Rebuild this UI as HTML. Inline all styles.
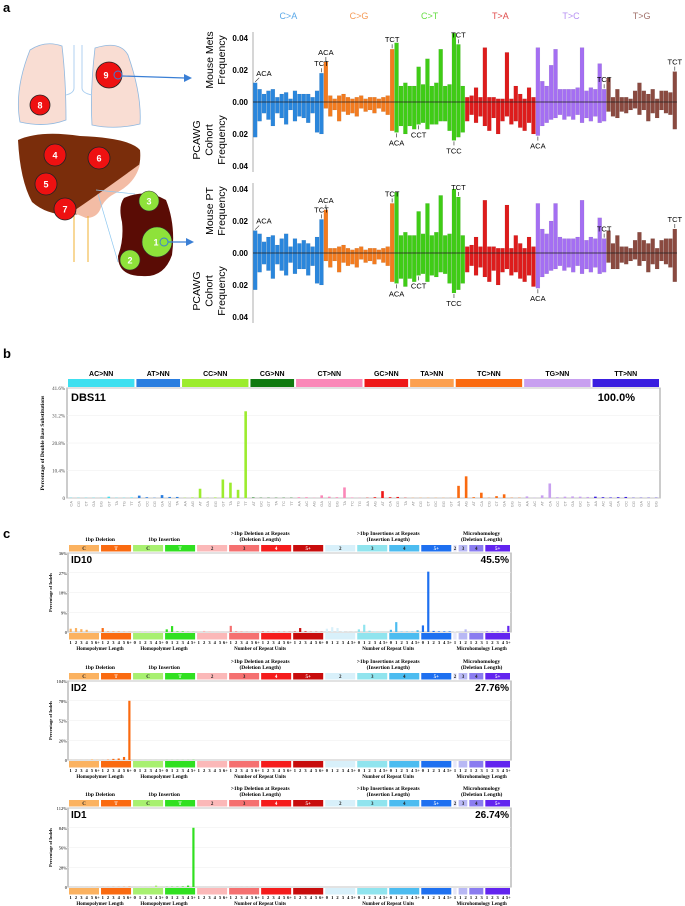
<!DOCTYPE html>
<html><head><meta charset="utf-8"><style>
body{margin:0;background:#fff;width:685px;height:906px;overflow:hidden}
svg{display:block;font-family:"Liberation Sans",sans-serif}
</style></head><body>
<svg id="fig" width="685" height="906" viewBox="0 0 685 906" xmlns="http://www.w3.org/2000/svg">
<text x="3" y="12" font-size="13" font-weight="bold">a</text>
<text x="3" y="358" font-size="13" font-weight="bold">b</text>
<text x="3" y="538" font-size="13" font-weight="bold">c</text>
<g>
 <path d="M30 50 Q45 40 62 46 Q66 80 66 120 Q45 128 20 122 Q14 90 30 50Z" fill="#f9ddd3" stroke="#8fb8e0" stroke-width="0.8"/>
 <path d="M95 48 Q120 40 128 55 Q142 95 140 124 Q115 130 92 125 Q90 90 95 48Z" fill="#f9ddd3" stroke="#8fb8e0" stroke-width="0.8"/>
 <path d="M74 45 L74 88 Q74 93 66 95 M82 45 L82 88 Q82 93 92 95" fill="none" stroke="#a8cdf0" stroke-width="0.9"/>
 <circle cx="40" cy="105" r="10" fill="#ee1111" stroke="#222" stroke-width="0.8"/>
 <text x="40" y="108.5" font-size="9" font-weight="bold" fill="#fff" text-anchor="middle">8</text>
 <circle cx="109" cy="75" r="13" fill="#ee1111" stroke="#222" stroke-width="0.8"/>
 <text x="106" y="78.5" font-size="9" font-weight="bold" fill="#fff" text-anchor="middle">9</text>
 <circle cx="118" cy="75" r="4" fill="none" stroke="#3a7fd5" stroke-width="1"/>
 <path d="M18 140 Q40 130 80 136 Q130 138 140 150 Q142 170 130 182 Q112 190 100 198 Q92 212 80 214 Q50 218 32 202 Q20 180 18 140Z" fill="#7a2d0b"/>
 <path d="M72 212 Q96 196 140 164 Q136 182 118 192 Q104 198 100 210 Q96 218 86 218Z" fill="#f3bca5"/>
 <path d="M74 214 L74 262 M88 216 L88 262" stroke="#f0b030" stroke-width="1" fill="none"/>
 <circle cx="55" cy="155" r="11" fill="#ee1111" stroke="#222" stroke-width="0.8"/>
 <text x="55" y="158.5" font-size="9" font-weight="bold" fill="#fff" text-anchor="middle">4</text>
 <circle cx="99" cy="158" r="11" fill="#ee1111" stroke="#222" stroke-width="0.8"/>
 <text x="99" y="161.5" font-size="9" font-weight="bold" fill="#fff" text-anchor="middle">6</text>
 <circle cx="46" cy="184" r="11" fill="#ee1111" stroke="#222" stroke-width="0.8"/>
 <text x="46" y="187.5" font-size="9" font-weight="bold" fill="#fff" text-anchor="middle">5</text>
 <circle cx="65" cy="209" r="11" fill="#ee1111" stroke="#222" stroke-width="0.8"/>
 <text x="65" y="212.5" font-size="9" font-weight="bold" fill="#fff" text-anchor="middle">7</text>
 <path d="M96 190 L135 194 M98 194 L118 262" stroke="#8fc8f0" stroke-width="0.7" fill="none"/>
 <path d="M124 198 Q146 188 166 200 Q176 225 172 255 Q164 278 142 276 Q118 276 118 256 Q124 240 122 222 Q118 206 124 198Z" fill="#5a0c05"/>
 <circle cx="149" cy="201" r="10" fill="#8ee23a" stroke="#333" stroke-width="0.6"/>
 <text x="149" y="204.5" font-size="9" font-weight="bold" fill="#fff" text-anchor="middle">3</text>
 <circle cx="157" cy="242" r="15" fill="#8ee23a" stroke="#333" stroke-width="0.6"/>
 <text x="156" y="245.5" font-size="9" font-weight="bold" fill="#fff" text-anchor="middle">1</text>
 <circle cx="164" cy="242" r="4" fill="none" stroke="#3a7fd5" stroke-width="1"/>
 <circle cx="130" cy="260" r="10" fill="#8ee23a" stroke="#333" stroke-width="0.6"/>
 <text x="130" y="263.5" font-size="9" font-weight="bold" fill="#fff" text-anchor="middle">2</text>
 <path d="M122 76 L185 78" stroke="#3a7fd5" stroke-width="1.2"/>
 <path d="M184 74 L192 78 L184 82Z" fill="#3a7fd5"/>
 <path d="M168 242 L187 242" stroke="#3a7fd5" stroke-width="1.2"/>
 <path d="M186 238 L194 242 L186 246Z" fill="#3a7fd5"/>
</g>
<g id="sbs"></g>
<g id="dbs"></g>
<g id="ids"></g>
</svg>
<script>
// ---------- SBS data (units of 0.001) ----------
const sbsGroups = ["C>A","C>G","C>T","T>A","T>C","T>G"];
const metsUp = [12,8,5,7,8,3,5,6,2,7,5,5,5,3,7,18, 25,4,2,4,5,3,2,3,4,2,3,3,2,3,4,33, 37,10,12,10,10,22,11,27,10,12,33,10,11,43,36,10, 3,4,9,3,34,3,3,2,2,31,2,10,5,2,9,3, 34,13,10,23,33,8,8,8,8,9,34,7,9,8,24,8, 15,3,8,3,3,2,7,12,7,5,8,2,7,7,6,19];
const metsDown = [22,12,7,11,15,7,10,14,5,12,9,10,13,7,19,20, 4,9,5,12,6,8,7,9,4,6,5,7,4,6,8,18, 19,15,20,15,17,14,13,17,14,14,12,12,18,24,22,19, 12,8,13,9,15,18,10,20,12,9,14,12,16,18,13,20, 21,15,13,11,10,8,11,9,11,8,13,10,12,9,13,12, 6,9,10,6,7,5,4,8,5,12,7,10,5,7,8,17];
const ptUp = [14,12,7,10,11,5,9,12,4,9,6,8,6,4,10,21, 27,3,3,4,5,3,2,3,4,2,3,3,2,3,4,31, 38,11,13,11,11,26,12,31,11,13,36,11,12,40,35,11, 4,5,10,4,33,4,4,3,3,30,3,11,6,3,10,4, 31,15,12,20,31,10,9,9,9,10,33,8,10,9,22,9, 14,6,11,4,4,3,8,13,8,6,9,3,8,9,9,15];
const ptDown = [23,12,7,11,16,7,11,14,6,13,10,10,14,8,19,20, 5,9,5,12,6,8,7,9,4,6,5,7,4,6,8,18, 19,16,21,16,18,14,13,18,14,15,12,13,19,25,23,19, 12,8,14,9,15,18,11,20,12,10,14,12,16,18,14,21, 22,15,13,11,10,8,11,9,12,8,13,10,12,9,13,12, 6,10,10,6,7,5,4,8,5,12,7,10,5,7,9,18];
const metsAnnot = [[0,"up","ACA"],[15,"up","TCT"],[16,"up","ACA"],[31,"up","TCT"],[32,"down","ACA"],[37,"down","CCT"],[46,"up","TCT"],[45,"down","TCC"],[64,"down","ACA"],[79,"up","TCT"],[95,"up","TCT"]];
const sbsTicks = ["0.04","0.02","0.00","0.02","0.04"];
// ---------- DBS data (%) ----------
const dbsGroups = ["AC>NN","AT>NN","CC>NN","CG>NN","CT>NN","GC>NN","TA>NN","TC>NN","TG>NN","TT>NN"];
const dbsSub = [["CA","CG","CT","GA","GG","GT","TA","TG","TT"],["CA","CC","CG","GA","GC","TA"],["AA","AG","AT","GA","GG","GT","TA","TG","TT"],["AT","GC","GT","TA","TC","TT"],["AA","AC","AG","GA","GC","GG","TA","TC","TG"],["AA","AG","AT","CA","CG","TA"],["AT","CG","CT","GC","GG","GT"],["AA","AG","AT","CA","CG","CT","GA","GG","GT"],["AA","AC","AT","CA","CC","CT","GA","GC","GT"],["AA","AC","AG","CA","CC","CG","GA","GC","GG"]];
const dbsValues = [0.1,0.1,0.1,0.1,0.1,0.5,0.1,0.1,0.2, 0.9,0.3,0.1,1.1,0.4,0.4, 0.1,0.2,3.5,0.1,0.2,7.0,5.8,3.1,32.8, 0.2,0.1,0.1,0.1,0.1,0.1, 0.3,0.3,0.1,1.0,0.5,0.3,4.0,0.2,0.1, 0.1,0.3,2.6,0.3,0.4,0.1, 0.1,0.1,0.1,0.1,0.1,0.1, 4.6,8.2,0.3,2.0,0.1,0.7,1.4,0.1,0.1, 0.6,0.1,1.0,5.5,0.3,0.5,0.6,0.5,0.4, 0.5,0.3,0.2,0.3,0.4,0.1,0.1,0.1,0.1];
const dbsTicks = ["0","10.4%","20.8%","31.2%","41.6%"];
// ---------- ID data (%) ----------
const id10Values = [1.5,1.8,1.3,1.0,0.1,0.1, 1.8,0.2,0.2,0.2,0.1,0.1, 0.2,0.2,0.2,0.2,0.2,0.1, 1.2,2.7,0.3,0.3,0.1,0.1, 0.2,0.5,0.3,0.1,0.1,0.1, 2.8,0.3,0.2,0.1,0.1,0.1, 0.2,0.1,0.1,0.1,0.1,0.1, 0.2,1.8,0.3,0.1,0.1,0.1, 1.5,2.2,1.8,0.3,0.1,0.1, 1.2,3.3,0.6,0.2,0.1,0.1, 1.0,4.5,0.2,0.2,0.2,0.8, 3.0,27.5,0.5,0.3,0.3,0.3, 0.2, 0.2,1.2, 0.1,0.1,0.1, 0.2,0.2,0.2,0.2,2.8];
const id2Values = [0.1,0.1,0.1,0.1,0.8,0.3, 0.1,0.5,1.5,2.0,4.0,78.0, 0.1,0.1,0.1,0.1,0.1,0.1, 0.1,0.1,0.1,0.1,0.1,0.3, 0,0,0,0,0,0, 0,0,0,0,0,0, 0,0,0,0,0,0, 0,0,0,0,0,0, 0,0,0,0,0,0, 0,0,0,0,0,0, 0,0,0,0,0,0, 0,0,0,0,0,0, 0, 0,0, 0,0,0, 0,0,0,0,0];
const id1Values = [0.1,0.1,0.1,0.1,0.3,0.5, 0.1,0.1,0.2,0.2,0.3,0.5, 0.2,0.3,0.3,0.5,2.0,0.5, 0.3,0.5,0.5,0.8,2.0,84.0, 0.1,0.1,0.1,0.1,0.1,0.1, 0.1,0.1,0.1,0.1,0.1,0.1, 0,0,0,0,0,0, 0,0,0,0,0,0, 0,0,0,0,0,0, 0,0,0,0,0,0, 0,0,0,0,0,0, 0,0,0,0,0,0, 0, 0,0, 0,0,0, 0,0,0,0,0];
const id10Ticks = ["0","9%","18%","27%","36%"];
const id2Ticks = ["0","26%","52%","78%","104%"];
const id1Ticks = ["0","28%","56%","84%","112%"];
const idSegLabels = ["C","T","C","T","2","3","4","5+","2","3","4","5+","2","3","4","5+"];
const idSegCounts = [6,6,6,6,6,6,6,6,6,6,6,6,1,2,3,5];
const idSegNums = [["1","2","3","4","5","6+"],["1","2","3","4","5","6+"],["0","1","2","3","4","5+"],["0","1","2","3","4","5+"],["1","2","3","4","5","6+"],["1","2","3","4","5","6+"],["1","2","3","4","5","6+"],["1","2","3","4","5","6+"],["0","1","2","3","4","5+"],["0","1","2","3","4","5+"],["0","1","2","3","4","5+"],["0","1","2","3","4","5+"],["1"],["1","2"],["1","2","3"],["1","2","3","4","5+"]];

const NS="http://www.w3.org/2000/svg";
function mk(tag, attrs, parent){const e=document.createElementNS(NS,tag);for(const k in attrs)e.setAttribute(k,attrs[k]);parent.appendChild(e);return e;}
function txt(s, attrs, parent){const e=mk("text",attrs,parent);e.textContent=s;return e;}

// ================= SBS =================
const sbsColors=["#2a86dc","#f27b1f","#3fcc16","#dd1c1c","#a46ff2","#8a4a40"];
const sbsLabelColors=["#5aa8e8","#f59a55","#66dd44","#e04c4c","#b690f2","#a0706a"];
const sbsG=document.getElementById("sbs");
const sbsX0=253, sbsW=424/96;
function sx(i){return sbsX0+i*sbsW;}
sbsGroups.forEach((g,k)=>{
  const t=txt(g,{x:sx(k*16+8),y:19,"font-size":9,fill:sbsLabelColors[k],"text-anchor":"middle"},sbsG);
  
  
});
function drawSBS(zero, up, down, titleTop, titleBot, name){
  const g=mk("g",{},sbsG);
  
  
  const unit=1.6;
  function y(v){return zero - v*unit;}
  const ax=mk("line",{x1:sbsX0,x2:sbsX0,y1:zero-70,y2:zero+70,stroke:"#999","stroke-width":0.8},g);
  
  
  sbsTicks.forEach((t,i)=>{
    const tv=(2-i)*20;
    const e=txt(t,{x:248,y:y(tv)+3,"font-size":8,"font-weight":"bold","text-anchor":"end"},g);
    
    
  });
  up.forEach((v,i)=>{
    const c=sbsColors[Math.floor(i/16)];
    const r=mk("rect",{x:sx(i)+0.2,y:y(v),width:sbsW-0.4,height:v*unit,fill:c,stroke:"rgba(0,0,0,0.15)","stroke-width":0.3},g);
    
    
    const d=down[i];
    const r2=mk("rect",{x:sx(i)+0.2,y:zero,width:sbsW-0.4,height:d*unit,fill:c,stroke:"rgba(0,0,0,0.15)","stroke-width":0.3},g);
    
    
  });
  const zl=mk("line",{x1:sbsX0,x2:677,y1:zero,y2:zero,stroke:"#222","stroke-width":0.8},g);
  
  
  metsAnnot.forEach(a=>{
    const i=a[0], cx=sx(i)+sbsW/2;
    if(a[1]==="up"){
      const top=y(up[i]);
      const first=(i===0);
      const l=mk("line",{x1:cx,y1:top-1,x2:first?cx+4:cx,y2:top-5,stroke:"#222","stroke-width":0.6},g);
      
      
      const t=txt(a[2],{x:first?cx+1:cx,y:top-7,"font-size":7.5,"text-anchor":first?"start":"middle"},g);
      
      
    } else {
      const bot=zero+down[i]*unit;
      const l=mk("line",{x1:cx,y1:bot+1,x2:cx,y2:bot+5,stroke:"#222","stroke-width":0.6},g);
      
      
      const t=txt(a[2],{x:cx,y:bot+13,"font-size":7.5,"text-anchor":"middle"},g);
      
      
    }
  });
  const tt=txt("",{transform:`translate(213,${zero-42}) rotate(-90)`,"font-size":10.5,"text-anchor":"middle"},g);
  
  
  titleTop.forEach((s,j)=>{const ts=mk("tspan",{x:0,dy:j?12:0},tt);ts.textContent=s;});
  const tb=txt("",{transform:`translate(200,${zero+38}) rotate(-90)`,"font-size":10.5,"text-anchor":"middle"},g);
  
  
  titleBot.forEach((s,j)=>{const ts=mk("tspan",{x:0,dy:j?12.5:0},tb);ts.textContent=s;});
}
drawSBS(102, metsUp, metsDown, ["Mouse Mets","Frequency"], ["PCAWG","Cohort","Frequency"], "mets-sbs-chart");
drawSBS(253, ptUp, ptDown, ["Mouse PT","Frequency"], ["PCAWG","Cohort","Frequency"], "pt-sbs-chart");

// ================= DBS =================
const dbsColors=["#3ee0f0","#2a7ee0","#9cec2e","#107a10","#fa88b8","#ee1818","#fca050","#fa6a10","#c8a0f0","#3a1ee0"];
const dbsG=document.getElementById("dbs");
const dX0=67, dX1=660, dTop=388, dBot=498, dW=(dX1-dX0)/78;
function dy(v){return dBot-(v/41.6)*(dBot-dTop);}
const box=mk("rect",{x:dX0,y:dTop,width:dX1-dX0,height:dBot-dTop,fill:"none",stroke:"#9a9a9a","stroke-width":1},dbsG);


dbsTicks.forEach((t,i)=>{
  const v=i*10.4;
  const gl=mk("line",{x1:dX0,x2:dX1,y1:dy(v),y2:dy(v),stroke:"#eee","stroke-width":0.5},dbsG);
  
  
  const e=txt(t,{x:dX0-2,y:dy(v)+2,"font-size":5,"text-anchor":"end",fill:"#444","font-family":"Liberation Serif, serif"},dbsG);
  
  
});
let di=0;
dbsGroups.forEach((g,k)=>{
  const n=dbsSub[k].length, x0=dX0+di*dW;
  const r=mk("rect",{x:x0+1,y:379,width:n*dW-2,height:8,fill:dbsColors[k]},dbsG);
  
  
  const t=txt(g,{x:x0+n*dW/2,y:376,"font-size":7,"font-weight":"bold","text-anchor":"middle"},dbsG);
  
  
  dbsSub[k].forEach((s,j)=>{
    const i=di+j, v=dbsValues[i], cx=dX0+(i+0.5)*dW;
    const b=mk("rect",{x:cx-1.3,y:dy(v),width:2.6,height:dBot-dy(v),fill:dbsColors[k]},dbsG);
    
    
    const l=txt(s,{transform:`translate(${cx+1.5},501) rotate(-90)`,"font-size":4,"text-anchor":"end",fill:"#888"},dbsG);
    
    
  });
  di+=n;
});
const dn=txt("DBS11",{x:dX0+4,y:dTop+13,"font-size":11,"font-weight":"bold"},dbsG);


const dp=txt("100.0%",{x:dX1-25,y:dTop+13,"font-size":11,"font-weight":"bold","text-anchor":"end"},dbsG);


const dyt=txt("Percentage of Double Base Substitutions",{transform:`translate(44,${(dTop+dBot)/2}) rotate(-90)`,"font-size":5.5,"font-weight":"bold","text-anchor":"middle","font-family":"Liberation Serif, serif"},dbsG);



// ================= ID =================
const idColors=["#fbb260","#fa6a10","#a8f070","#30e020","#fbb8b8","#f57070","#f51c1c","#c80c0c","#d8f0fa","#90e4ee","#4cbcf0","#1e70f0","#e6e6f8","#b8b8f4","#8a7cf0","#6224ef"];
const idG=document.getElementById("ids");
const iX0=68, iX1=511, iW=(iX1-iX0)/83;
function drawID(T, vals, ticks, maxV, name, pct, gname){
  const g=mk("g",{},idG);
  
  
  const H=79;
  function y(v){return T+H-(v/maxV)*H;}
  const fr=mk("rect",{x:iX0,y:T,width:iX1-iX0,height:H,fill:"none",stroke:"#9a9a9a","stroke-width":1},g);
  
  
  ticks.forEach((t,i)=>{
    const v=maxV*i/4;
    const gl=mk("line",{x1:iX0,x2:iX1,y1:y(v),y2:y(v),stroke:"#eee","stroke-width":0.5},g);
    
    
    const e=txt(t,{x:iX0-1,y:y(v)+2,"font-size":4.5,"text-anchor":"end","font-family":"Liberation Serif, serif"},g);
    
    
  });
  let idx=0;
  const segStart=[];
  idSegCounts.forEach((n,k)=>{
    const x0=iX0+idx*iW; segStart.push(idx);
    const w=n*iW-2;
    const top=mk("rect",{x:x0+1,y:T-8,width:w,height:6.5,fill:idColors[k]},g);
    
    
    const tl=txt(idSegLabels[k],{x:x0+n*iW/2,y:T-3,"font-size":5,"font-weight":"bold","text-anchor":"middle",fill:(k===1||k===3||k>=6&&k<=7||k===11||k===15)?"#fff":"#222","font-family":"Liberation Serif, serif"},g);
    
    
    const bt=mk("rect",{x:x0+1,y:T+H+1,width:w,height:6.5,fill:idColors[k]},g);
    
    
    idSegNums[k].forEach((s,j)=>{
      const i=idx+j, v=vals[i], cx=iX0+(i+0.5)*iW;
      const b=mk("rect",{x:cx-1.1,y:y(v),width:2.2,height:T+H-y(v),fill:idColors[k]},g);
      
      
      const nl=txt(s,{x:cx,y:T+H+12,"font-size":4.5,"font-weight":"bold","text-anchor":"middle","font-family":"Liberation Serif, serif"},g);
      
      
    });
    idx+=n;
  });
  function cen(a,b){return iX0+(segStart[a]+ (b===15?83:segStart[b+1]))*iW/2;}
  const heads=[[0,1,["1bp Deletion"]],[2,3,["1bp Insertion"]],[4,7,[">1bp Deletion at Repeats","(Deletion Length)"]],[8,11,[">1bp Insertions at Repeats","(Insertion Length)"]],[12,15,["Microhomology","(Deletion Length)"]]];
  heads.forEach(h=>{
    const t=txt("",{x:cen(h[0],h[1]),y:h[2].length>1?T-18:T-12,"font-size":5.5,"font-weight":"bold","text-anchor":"middle","font-family":"Liberation Serif, serif"},g);
    
    
    h[2].forEach((s,j)=>{const ts=mk("tspan",{x:cen(h[0],h[1]),dy:j?6:0},t);ts.textContent=s;});
  });
  const foots=[[0,1,"Homopolymer Length"],[2,3,"Homopolymer Length"],[4,7,"Number of Repeat Units"],[8,11,"Number of Repeat Units"],[12,15,"Microhomology Length"]];
  foots.forEach(f=>{
    const t=txt(f[2],{x:f[0]===0?cen(0,0)+iW*3:(f[0]===2?cen(2,2)+iW*3:cen(f[0],f[1])),y:T+H+18,"font-size":5,"font-weight":"bold","text-anchor":"middle","font-family":"Liberation Serif, serif"},g);
    
    
  });
  const nm=txt(name,{x:iX0+3,y:T+10,"font-size":10,"font-weight":"bold"},g);
  
  
  const pc=txt(pct,{x:iX1-2,y:T+10,"font-size":10,"font-weight":"bold","text-anchor":"end"},g);
  
  
  const yt=txt("Percentage of Indels",{transform:`translate(52,${T+H/2}) rotate(-90)`,"font-size":4.5,"font-weight":"bold","text-anchor":"middle","font-family":"Liberation Serif, serif"},g);
  
  
}
drawID(553, id10Values, id10Ticks, 36, "ID10", "45.5%", "id10-chart");
drawID(681, id2Values, id2Ticks, 104, "ID2", "27.76%", "id2-chart");
drawID(808, id1Values, id1Ticks, 112, "ID1", "26.74%", "id1-chart");
</script>
</body></html>
